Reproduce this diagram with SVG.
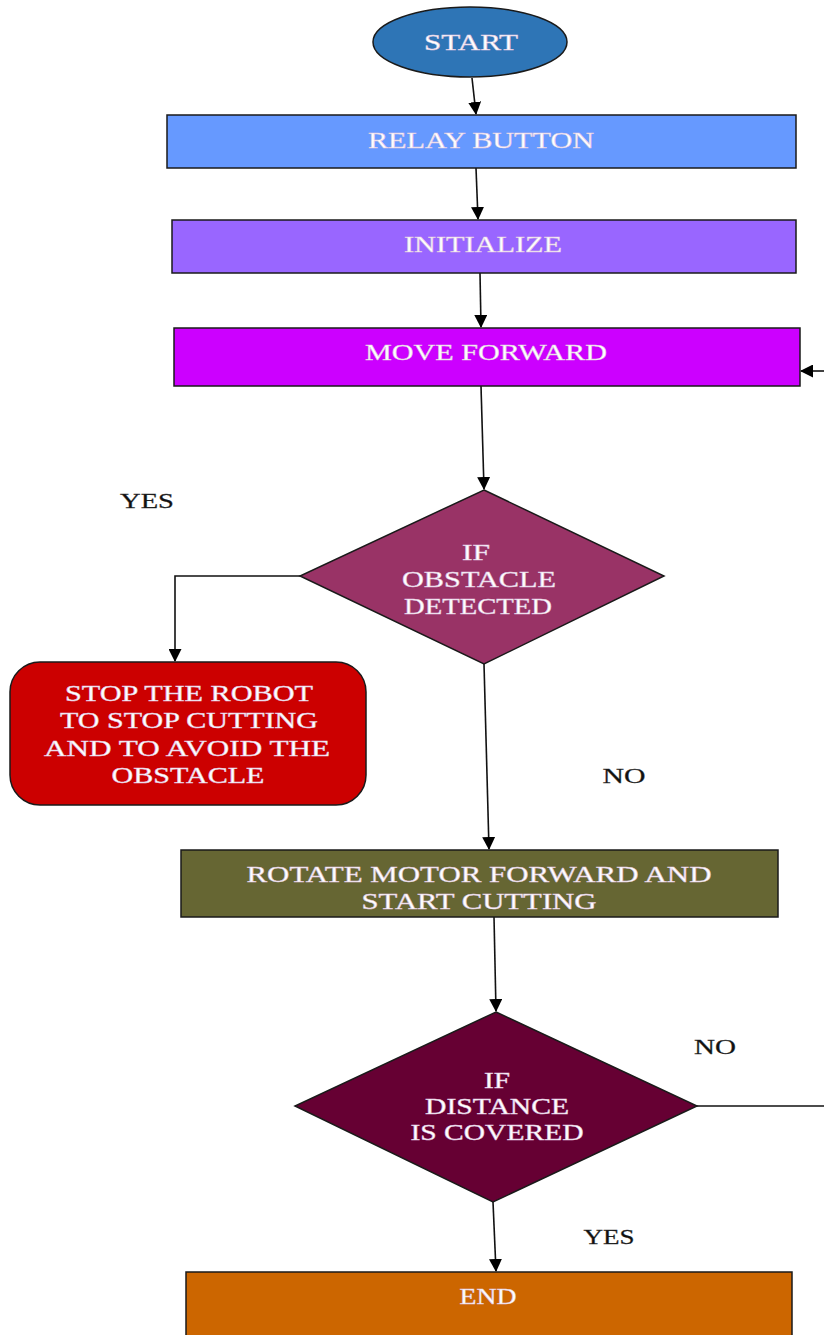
<svg xmlns="http://www.w3.org/2000/svg" width="824" height="1335" viewBox="0 0 824 1335">
<style>
.n{stroke:#1a1a1a;stroke-width:1.5}
.t{font-family:"Liberation Serif","Times New Roman",serif;font-size:24px;fill:#ffffff;text-anchor:middle;stroke:#e0c8e0;stroke-width:0.5}
.l{font-family:"Liberation Serif","Times New Roman",serif;font-size:22px;fill:#111111;text-anchor:middle;stroke:#333;stroke-width:0.3}
.c{fill:none;stroke:#111111;stroke-width:1.6}
</style>
<defs>
<marker id="ah" markerWidth="13" markerHeight="13" refX="12" refY="6.5" orient="auto" markerUnits="userSpaceOnUse" viewBox="0 0 13 13">
<path d="M0,0 L13,6.5 L0,13 z" fill="#000"/>
</marker>
</defs>
<rect width="824" height="1335" fill="#ffffff"/>
<g id="connectors">
<path class="c" d="M472,78 L476,114" marker-end="url(#ah)"/>
<path class="c" d="M476,168 L478,219" marker-end="url(#ah)"/>
<path class="c" d="M480,273 L481,327" marker-end="url(#ah)"/>
<path class="c" d="M824,371 L801,371" marker-end="url(#ah)"/>
<path class="c" d="M481,386 L484,489" marker-end="url(#ah)"/>
<path class="c" d="M300,576 L175,576 L175,661" marker-end="url(#ah)"/>
<path class="c" d="M484,664 L489,849" marker-end="url(#ah)"/>
<path class="c" d="M494,917 L496,1011" marker-end="url(#ah)"/>
<path class="c" d="M697,1106 L824,1106"/>
<path class="c" d="M493,1202 L496,1271" marker-end="url(#ah)"/>
</g>
<g id="start">
<ellipse class="n" cx="470" cy="42" rx="97" ry="35" fill="#2e75b6" stroke="#2e75b6"/>
<text class="t" x="471" y="50" textLength="94" lengthAdjust="spacingAndGlyphs">START</text>
</g>
<g id="relay">
<rect class="n" x="167" y="115" width="629" height="53" fill="#6699ff"/>
<text class="t" x="481" y="148" textLength="226" lengthAdjust="spacingAndGlyphs">RELAY BUTTON</text>
</g>
<g id="init">
<rect class="n" x="172" y="220" width="624" height="53" fill="#9966ff"/>
<text class="t" x="483" y="252" textLength="158" lengthAdjust="spacingAndGlyphs">INITIALIZE</text>
</g>
<g id="move">
<rect class="n" x="174" y="328" width="626" height="58" fill="#cc00ff"/>
<text class="t" x="486" y="360" textLength="242" lengthAdjust="spacingAndGlyphs">MOVE FORWARD</text>
</g>
<g id="obstacle">
<polygon class="n" points="484,490 664,576 484,664 300,576" fill="#993366"/>
<text class="t" x="476" y="560" textLength="28" lengthAdjust="spacingAndGlyphs">IF</text>
<text class="t" x="479" y="587" textLength="154" lengthAdjust="spacingAndGlyphs">OBSTACLE</text>
<text class="t" x="478" y="614" textLength="148" lengthAdjust="spacingAndGlyphs">DETECTED</text>
</g>
<g id="stop">
<rect class="n" x="10" y="662" width="356" height="143" rx="30" fill="#cc0000"/>
<text class="t" x="189" y="701" textLength="248" lengthAdjust="spacingAndGlyphs">STOP THE ROBOT</text>
<text class="t" x="189" y="728" textLength="258" lengthAdjust="spacingAndGlyphs">TO STOP CUTTING</text>
<text class="t" x="187" y="756" textLength="286" lengthAdjust="spacingAndGlyphs">AND TO AVOID THE</text>
<text class="t" x="188" y="783" textLength="153" lengthAdjust="spacingAndGlyphs">OBSTACLE</text>
</g>
<g id="rotate">
<rect class="n" x="181" y="850" width="597" height="67" fill="#666633"/>
<text class="t" x="479" y="882" textLength="465" lengthAdjust="spacingAndGlyphs">ROTATE MOTOR FORWARD AND</text>
<text class="t" x="479" y="909" textLength="235" lengthAdjust="spacingAndGlyphs">START CUTTING</text>
</g>
<g id="distance">
<polygon class="n" points="496,1012 697,1106 493,1202 295,1106" fill="#660033"/>
<text class="t" x="497" y="1088" textLength="26" lengthAdjust="spacingAndGlyphs">IF</text>
<text class="t" x="497" y="1114" textLength="144" lengthAdjust="spacingAndGlyphs">DISTANCE</text>
<text class="t" x="497" y="1140" textLength="173" lengthAdjust="spacingAndGlyphs">IS COVERED</text>
</g>
<g id="end">
<rect class="n" x="186" y="1272" width="606" height="70" fill="#cc6600"/>
<text class="t" x="488" y="1304" textLength="57" lengthAdjust="spacingAndGlyphs">END</text>
</g>
<g id="labels">
<text class="l" x="147" y="508" textLength="54" lengthAdjust="spacingAndGlyphs">YES</text>
<text class="l" x="624" y="783" textLength="43" lengthAdjust="spacingAndGlyphs">NO</text>
<text class="l" x="715" y="1054" textLength="42" lengthAdjust="spacingAndGlyphs">NO</text>
<text class="l" x="609" y="1244" textLength="51" lengthAdjust="spacingAndGlyphs">YES</text>
</g>
</svg>
